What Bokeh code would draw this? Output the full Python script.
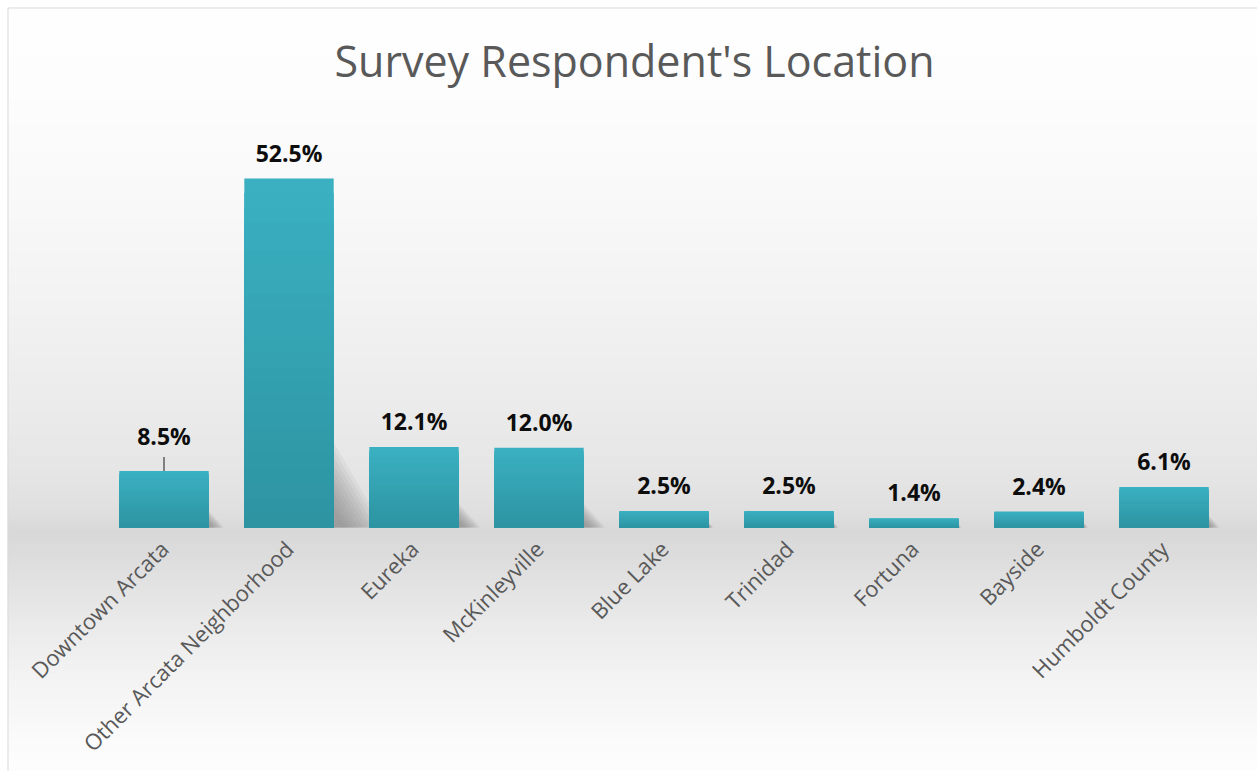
import numpy as np
from bokeh.plotting import figure
from bokeh.models import ColumnDataSource, Range1d, FixedTicker, Label, Span
from bokeh.embed import file_html
from bokeh.resources import INLINE
from bokeh.core.properties import value

# ---------------- data ----------------
categories = ["Downtown Arcata", "Other Arcata Neighborhood", "Eureka", "McKinleyville",
              "Blue Lake", "Trinidad", "Fortuna", "Bayside", "Humboldt County"]
percent = [8.5, 52.5, 12.1, 12.0, 2.5, 2.5, 1.4, 2.4, 6.1]
labels = ["8.5%", "52.5%", "12.1%", "12.0%", "2.5%", "2.5%", "1.4%", "2.4%", "6.1%"]
title_text = "Survey Respondent's Location"

# ---------------- layout constants ----------------
CW, CH = 1257, 771          # canvas size
FX0, FY0 = 7, 7             # frame top-left on canvas
BASE_PY = 527.0             # canvas y of value 0
SCALE = 349.0 / 52.5        # px per percent
STEP = 125.0                # px per category
FIRST_PX = 163.5            # canvas x of first category centre
BAR_W = 0.715

def dy(py):
    return (BASE_PY - py) / SCALE

def dx(px):
    return (px - FIRST_PX) / STEP

x0, x1 = dx(FX0), dx(CW)
y1, y0 = dy(FY0), dy(CH)

p = figure(width=CW, height=CH, output_backend="svg", toolbar_location=None,
           x_range=Range1d(x0, x1), y_range=Range1d(y0, y1),
           y_axis_location=None, min_border=0,
           min_border_left=FX0, min_border_top=FY0,
           border_fill_color="white", background_fill_color="white")
p.outline_line_color = None
p.grid.visible = False

# ---------------- background gradient ----------------
stops_py = [7, 100, 200, 300, 400, 470, 515, 530, 545, 580, 620, 680, 740, 771]
stops_g = [255, 253, 249, 243, 236, 230, 223, 216, 219, 226, 234, 244, 251, 254]
band = 3
pys = np.arange(FY0, CH, band)
greys = np.interp(pys + band / 2, stops_py, stops_g)
bg = ColumnDataSource(dict(
    top=[dy(v) for v in pys], bottom=[dy(v + band + 1.5) for v in pys],
    color=["#%02x%02x%02x" % (int(g), int(g), int(g)) for g in greys]))
p.quad(left=x0, right=x1, top="top", bottom="bottom", fill_color="color",
       line_color=None, source=bg)

# chart-area border (left and top edges only, as in the reference)
p.add_layout(Span(location=x0, dimension="height", line_color="#d9d9d9", line_width=2))
p.add_layout(Span(location=y1, dimension="width", line_color="#d9d9d9", line_width=2))

idx = list(range(len(categories)))

# ---------------- soft shadows to the right of bars ----------------
layers = 10
for k in range(layers):
    s = 1.0 - k * 0.085
    xs, ys = [], []
    for i, v in zip(idx, percent):
        hpx = v * SCALE
        hs = min(0.3 * hpx, 85.0) * s
        L = min(0.9 * min(0.3 * hpx, 85.0), 50.0) * s
        xr = i + BAR_W / 2
        xs.append([xr, xr, xr + L / STEP])
        ys.append([0, hs / SCALE, 0])
    p.patches(xs=xs, ys=ys, fill_color="#6e6e6e", fill_alpha=0.08, line_color=None)

# ---------------- bars with vertical gradient ----------------
top_rgb = np.array([0x3A, 0xB0, 0xC1])
bot_rgb = np.array([0x2D, 0x93, 0xA1])
steps = 24
for k in range(steps, 0, -1):
    f = k / steps
    c = bot_rgb + (top_rgb - bot_rgb) * f
    col = "#%02x%02x%02x" % tuple(int(round(v)) for v in c)
    p.vbar(x=idx, top=[v * f for v in percent], bottom=0, width=BAR_W,
           fill_color=col, line_color=None)

# ---------------- leader line for first label ----------------
p.segment(x0=[idx[0]], y0=[percent[0]], x1=[idx[0]], y1=[percent[0] + 14 / SCALE],
          line_color="#808080", line_width=2)

# ---------------- value labels ----------------
offsets = [-35, -26, -26, -26, -26, -26, -26, -26, -26]
src = ColumnDataSource(dict(x=idx, y=percent, text=labels, yo=offsets))
p.text(x="x", y="y", text="text", y_offset="yo", source=src,
       text_font=value("Open Sans"), text_font_style="bold", text_font_size="23px",
       text_align="center", text_baseline="alphabetic", text_color="#0d0d0d")

# ---------------- title ----------------
p.add_layout(Label(x=dx(634), y=dy(60), text=title_text,
                   text_font="Open Sans", text_font_size="43px", text_color="#595959",
                   text_align="center", text_baseline="middle"))

# ---------------- x axis ----------------
ax = p.xaxis[0]
ax.fixed_location = 0
ax.ticker = FixedTicker(ticks=idx)
ax.major_label_overrides = {i: c for i, c in zip(idx, categories)}
ax.major_label_orientation = np.pi / 4
ax.major_label_text_font = "Open Sans"
ax.major_label_text_font_size = "22px"
ax.major_label_text_color = "#595959"
ax.major_label_standoff = 11
ax.axis_line_color = None
ax.major_tick_line_color = None
ax.minor_tick_line_color = None

open("out.html", "w").write(file_html(p, INLINE))
